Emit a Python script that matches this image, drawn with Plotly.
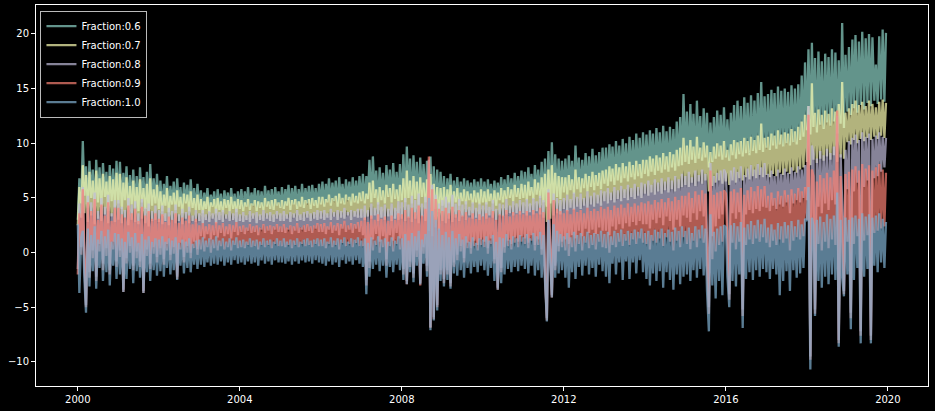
import pandas as pd
import plotly.graph_objects as go

labels = ["Fraction:0.6", "Fraction:0.7", "Fraction:0.8", "Fraction:0.9", "Fraction:1.0"]
colors = ["#8dd3c7", "#feffb3", "#bfbbd9", "#fa8174", "#81b1d2"]

# semi-monthly readings, one row per year (2000 ... 2019)
frac_06 = [
    3.0, 6.8, 4.5, 10.2, 5.2, 7.9, 4.1, 8.4, 5.0, 7.6, 3.9, 8.5, 4.6, 7.8, 4.3, 8.2, 5.1, 7.4, 3.8, 8.0, 4.7, 7.7, 4.2, 8.4,
    4.5, 8.3, 4.0, 7.3, 4.8, 7.9, 3.9, 7.1, 4.4, 7.6, 4.1, 7.0, 3.8, 7.8, 4.6, 6.9, 4.0, 7.4, 3.7, 8.1, 4.3, 6.8, 4.5, 7.2,
    4.0, 6.6, 3.8, 6.3, 4.3, 7.0, 3.7, 6.1, 4.4, 6.5, 3.9, 6.8, 4.2, 6.0, 3.6, 6.4, 4.5, 6.2, 3.8, 6.7, 4.1, 5.9, 3.9, 6.3,
    3.9, 5.7, 3.6, 5.5, 4.0, 5.9, 3.7, 5.3, 4.2, 5.6, 3.6, 5.8, 3.9, 5.4, 3.7, 5.7, 4.1, 5.5, 3.8, 5.9, 4.0, 5.4, 3.7, 5.6,
    4.0, 5.8, 3.8, 5.6, 4.2, 6.0, 3.9, 5.5, 4.3, 5.9, 3.8, 5.7, 4.1, 5.6, 3.9, 6.1, 4.2, 5.7, 4.0, 5.8, 3.9, 6.0, 4.3, 5.6,
    4.1, 6.0, 4.0, 5.8, 4.3, 6.2, 3.9, 5.9, 4.4, 6.1, 4.0, 5.8, 4.2, 6.3, 4.1, 5.9, 4.5, 6.1, 4.0, 6.2, 4.3, 5.9, 4.1, 6.3,
    4.4, 6.5, 4.2, 6.3, 4.6, 6.8, 4.3, 6.4, 4.7, 6.6, 4.2, 6.9, 4.5, 6.3, 4.4, 6.7, 4.8, 6.5, 4.3, 6.9, 4.6, 6.6, 4.5, 7.0,
    4.7, 7.2, 4.5, 7.0, 4.9, 8.5, 4.6, 8.8, 5.0, 7.5, 4.4, 7.8, 4.8, 7.3, 4.5, 8.0, 5.1, 7.6, 4.6, 8.2, 4.9, 7.4, 4.7, 8.1,
    4.8, 9.0, 4.6, 9.7, 5.0, 8.6, 4.5, 8.9, 4.9, 8.3, 4.4, 8.7, 5.1, 8.1, 4.6, 8.4, 3.8, 8.8, 3.5, 7.9, 4.0, 7.6, 3.7, 7.4,
    4.3, 7.0, 4.1, 6.8, 4.5, 7.2, 4.2, 6.6, 4.6, 6.9, 4.3, 6.5, 4.7, 6.8, 4.4, 6.6, 4.8, 6.4, 4.5, 6.7, 4.6, 6.5, 4.4, 6.8,
    4.6, 6.5, 4.4, 6.7, 4.7, 6.3, 4.5, 6.6, 4.3, 6.4, 4.8, 6.9, 4.6, 6.7, 4.9, 7.1, 5.0, 6.8, 4.7, 7.3, 5.1, 7.0, 4.9, 7.5,
    5.0, 7.4, 4.8, 7.8, 5.2, 7.2, 4.9, 8.0, 5.3, 7.6, 5.0, 8.3, 4.6, 8.6, 4.2, 9.3, 4.5, 10.1, 4.8, 9.0, 5.1, 8.6, 4.9, 8.4,
    5.5, 8.6, 5.3, 8.9, 5.7, 8.4, 5.4, 9.8, 5.8, 8.7, 5.5, 8.5, 5.9, 9.1, 5.6, 8.8, 6.0, 9.5, 5.7, 8.9, 6.1, 9.2, 5.8, 9.6,
    6.3, 9.6, 6.1, 9.9, 6.5, 9.7, 6.2, 10.2, 6.6, 9.8, 6.4, 10.4, 6.8, 10.0, 6.5, 10.6, 6.9, 10.3, 6.7, 10.9, 7.0, 10.5, 6.8, 11.0,
    7.2, 10.8, 7.0, 11.2, 7.4, 10.9, 7.1, 11.4, 7.5, 11.0, 7.3, 11.6, 7.6, 11.1, 7.4, 11.5, 7.8, 11.3, 7.5, 12.0, 7.9, 12.4, 8.0, 14.5,
    8.3, 12.9, 8.1, 13.6, 8.5, 12.7, 8.2, 13.9, 8.6, 12.5, 8.4, 13.2, 8.7, 12.8, 7.8, 11.9, 8.3, 12.4, 8.6, 13.0, 8.8, 12.6, 8.5, 13.3,
    8.7, 12.2, 8.4, 12.8, 8.9, 13.5, 8.6, 13.9, 9.0, 13.4, 8.8, 14.2, 9.1, 13.7, 8.9, 14.4, 9.3, 13.9, 9.1, 14.6, 9.4, 15.6, 9.2, 14.3,
    9.6, 14.5, 9.4, 14.9, 9.8, 14.6, 9.5, 15.2, 9.9, 14.8, 9.7, 15.0, 10.0, 14.7, 9.8, 15.3, 10.1, 15.0, 9.9, 15.4, 10.3, 16.2, 10.6, 17.4,
    11.2, 18.6, 10.8, 19.2, 11.5, 17.8, 11.0, 18.4, 11.7, 17.5, 11.3, 18.2, 11.9, 17.9, 11.6, 18.6, 12.0, 18.3, 10.9, 17.6, 11.8, 21.0, 11.4, 18.1,
    12.9, 18.8, 12.6, 19.5, 13.2, 19.9, 12.8, 19.3, 13.5, 20.2, 13.1, 19.6, 13.7, 20.0, 13.4, 19.7, 13.9, 17.2, 13.6, 19.8, 14.0, 20.4, 13.8, 20.1,
]

frac_07 = [
    2.5, 6.0, 3.2, 8.0, 3.6, 7.1, 2.8, 7.4, 3.4, 6.6, 2.6, 7.5, 3.1, 6.8, 2.9, 7.2, 3.5, 6.5, 2.7, 7.0, 3.3, 6.7, 2.8, 7.3,
    3.0, 7.2, 2.7, 6.4, 3.2, 6.9, 2.5, 6.1, 3.0, 6.6, 2.8, 6.0, 2.6, 6.7, 3.1, 5.9, 2.7, 6.3, 2.4, 6.8, 2.9, 5.8, 3.0, 6.2,
    2.8, 5.6, 2.6, 5.3, 2.9, 5.9, 2.5, 5.2, 3.0, 5.5, 2.7, 5.7, 2.9, 5.1, 2.6, 5.4, 3.1, 5.3, 2.7, 5.6, 2.9, 5.0, 2.8, 5.3,
    2.9, 4.9, 2.7, 4.7, 3.0, 5.1, 2.8, 4.6, 3.1, 4.9, 2.7, 5.0, 3.0, 4.7, 2.8, 4.9, 3.1, 4.8, 2.9, 5.1, 3.0, 4.7, 2.8, 4.9,
    2.9, 4.8, 2.8, 4.6, 3.0, 4.9, 2.8, 4.5, 3.1, 4.8, 2.7, 4.7, 3.0, 4.6, 2.9, 5.0, 3.1, 4.7, 2.9, 4.8, 2.8, 4.9, 3.1, 4.6,
    2.9, 4.8, 2.9, 4.7, 3.1, 5.0, 2.8, 4.8, 3.2, 4.9, 2.9, 4.7, 3.0, 5.1, 2.9, 4.8, 3.2, 4.9, 2.9, 5.0, 3.1, 4.8, 3.0, 5.1,
    3.1, 5.1, 3.0, 4.9, 3.2, 5.3, 3.0, 5.0, 3.3, 5.2, 3.0, 5.4, 3.2, 5.0, 3.1, 5.3, 3.4, 5.1, 3.0, 5.4, 3.3, 5.2, 3.2, 5.5,
    3.2, 5.6, 3.0, 5.4, 3.3, 6.4, 3.1, 6.6, 3.4, 5.8, 2.9, 6.0, 3.2, 5.7, 3.0, 6.2, 3.3, 5.9, 2.9, 6.3, 3.1, 5.8, 3.0, 6.2,
    3.1, 6.8, 2.9, 7.5, 3.2, 6.6, 2.8, 7.0, 3.1, 6.5, 2.7, 6.9, 3.3, 6.4, 2.9, 6.7, 2.0, 7.2, 1.5, 6.3, 2.3, 6.0, 2.1, 5.9,
    2.9, 6.0, 2.7, 5.8, 3.1, 6.2, 2.8, 5.6, 3.2, 5.9, 2.9, 5.5, 3.3, 5.8, 3.0, 5.6, 3.4, 5.4, 3.1, 5.7, 3.2, 5.5, 3.0, 5.8,
    3.3, 5.6, 3.1, 5.8, 3.4, 5.4, 3.2, 5.7, 3.0, 5.5, 3.4, 5.9, 3.3, 5.7, 3.5, 6.0, 3.6, 5.8, 3.4, 6.2, 3.6, 5.9, 3.5, 6.3,
    3.6, 6.2, 3.4, 6.5, 3.7, 6.0, 3.5, 6.7, 3.8, 6.4, 3.5, 6.9, 3.2, 7.2, 2.8, 7.6, 3.1, 8.0, 3.4, 7.3, 3.6, 7.0, 3.5, 6.9,
    4.0, 6.9, 3.8, 7.1, 4.1, 6.7, 3.9, 7.6, 4.2, 6.9, 4.0, 6.8, 4.3, 7.2, 4.1, 7.0, 4.4, 7.4, 4.2, 7.1, 4.5, 7.3, 4.3, 7.5,
    4.7, 7.6, 4.5, 7.9, 4.8, 7.7, 4.6, 8.1, 4.9, 7.8, 4.7, 8.2, 5.0, 7.9, 4.8, 8.3, 5.1, 8.0, 4.9, 8.4, 5.2, 8.1, 5.0, 8.5,
    5.4, 8.5, 5.2, 8.8, 5.5, 8.6, 5.3, 8.9, 5.6, 8.7, 5.4, 9.1, 5.7, 8.8, 5.5, 9.2, 5.8, 9.0, 5.6, 9.4, 5.9, 9.6, 6.0, 10.5,
    6.2, 9.8, 6.0, 10.3, 6.4, 9.7, 6.1, 10.6, 6.5, 9.6, 6.3, 10.1, 6.6, 9.8, 5.6, 9.2, 6.1, 9.7, 6.4, 10.0, 6.6, 9.8, 6.3, 10.2,
    6.5, 9.4, 6.2, 9.9, 6.6, 10.3, 6.4, 10.1, 6.8, 10.2, 6.6, 10.5, 6.9, 10.2, 6.7, 10.6, 7.0, 10.3, 6.8, 10.7, 7.1, 11.8, 6.9, 10.5,
    7.1, 10.6, 6.9, 10.9, 7.2, 10.7, 7.0, 11.2, 7.3, 10.8, 7.1, 11.0, 7.4, 10.9, 7.2, 11.3, 7.5, 11.1, 7.3, 11.5, 7.6, 12.0, 7.8, 12.6,
    8.3, 13.4, 8.0, 15.5, 8.5, 12.8, 8.2, 13.1, 8.6, 12.6, 8.4, 13.0, 8.8, 12.7, 8.5, 13.2, 8.9, 12.9, 8.3, 13.6, 8.7, 15.6, 8.6, 12.8,
    10.1, 13.2, 9.9, 13.6, 10.3, 13.9, 10.0, 13.5, 10.4, 13.8, 10.2, 13.4, 10.5, 13.9, 10.3, 13.6, 10.6, 13.3, 10.4, 13.8, 10.7, 14.0, 10.5, 13.7,
]

frac_08 = [
    -1.5, 4.5, 0.5, 6.0, -0.5, -4.8, 5.2, -1.8, 4.6, 0.2, 5.5, -2.2, 3.8, 0.8, 5.0, -1.0, 4.2, 0.4, 5.3, -1.6, 3.6, 1.0, 4.8, -0.8,
    4.8, 0.2, 4.2, -3.4, 3.9, -0.5, 5.0, 0.6, 4.4, -1.2, 4.7, 0.1, 3.6, -0.8, 4.9, -3.5, 4.1, 0.3, 4.5, -1.0, 3.8, 0.5, 4.3, -0.4,
    3.9, 0.4, 4.3, -0.6, 3.6, 0.8, 4.1, -0.2, 3.8, 0.5, 4.4, -2.2, 3.5, 0.9, 4.0, -0.4, 3.7, 0.6, 4.2, 0.0, 3.4, 1.0, 3.9, 0.3,
    3.6, 1.5, 3.9, 1.3, 3.5, 1.7, 3.8, 1.2, 3.6, 1.6, 4.0, 1.4, 3.7, 1.8, 3.9, 1.5, 3.5, 1.7, 3.8, 1.3, 3.6, 1.9, 4.0, 1.6,
    3.5, 1.9, 3.7, 1.7, 3.4, 2.0, 3.8, 1.8, 3.6, 1.9, 3.7, 1.6, 3.5, 2.1, 3.9, 1.8, 3.6, 2.0, 3.7, 1.7, 3.5, 2.1, 3.8, 1.9,
    3.6, 1.9, 3.8, 1.8, 3.5, 2.1, 3.7, 1.7, 3.6, 2.0, 3.9, 1.8, 3.5, 2.1, 3.7, 1.9, 3.8, 2.0, 3.6, 1.8, 3.7, 2.2, 3.9, 1.9,
    3.8, 1.9, 3.9, 1.7, 3.6, 2.1, 4.0, 1.8, 3.7, 2.0, 3.9, 1.6, 3.8, 2.2, 4.1, 1.9, 3.7, 2.1, 3.9, 1.8, 3.8, 2.2, 4.0, 1.9,
    4.0, 1.6, 4.3, -2.5, 3.9, -0.8, 4.5, 1.2, 4.1, 1.7, 4.6, 1.0, 4.2, 1.5, 4.4, -0.6, 4.0, 1.6, 4.5, 1.1, 4.1, 1.8, 4.7, 1.3,
    4.6, -1.5, 5.0, -2.6, 4.4, -0.8, 5.2, -1.9, 4.8, 0.2, 5.4, -2.8, 4.5, 0.5, 5.1, -1.2, 8.5, -6.8, 6.2, -5.9, 5.3, -4.8, 4.5, -1.6,
    4.8, -2.4, 5.1, -1.6, 4.6, -2.8, 5.3, -0.9, 4.5, -0.2, 4.9, 0.6, 4.4, -0.5, 4.7, 0.9, 4.2, 0.4, 4.6, 1.1, 4.1, 0.7, 4.5, 1.2,
    4.3, 1.0, 4.6, 0.4, 4.2, 1.3, 4.8, -0.6, 4.0, -3.2, 4.5, -1.4, 4.4, 0.5, 4.9, 1.1, 4.3, 0.8, 4.7, 1.4, 4.5, 1.0, 4.8, 1.5,
    4.6, 1.3, 4.9, 0.9, 4.5, 1.6, 5.0, 0.7, 4.7, 1.2, 5.2, 0.3, 4.8, -1.8, -6.0, 5.8, 0.4, -3.9, 5.4, -1.2, 5.0, 0.6, 4.8, 1.0,
    5.0, 1.2, 5.3, 0.8, 4.9, 1.6, 5.5, 1.3, 5.1, 2.0, 5.4, 1.5, 5.0, 2.2, 5.6, 1.8, 5.2, 2.1, 5.5, 1.7, 5.3, 2.3, 5.7, 2.0,
    5.6, 2.0, 5.9, 1.6, 5.5, 2.4, 6.0, 2.1, 5.7, 2.6, 6.1, 2.2, 5.8, 2.7, 6.2, 2.4, 5.9, 2.8, 6.3, 2.5, 6.0, 2.9, 6.4, 2.6,
    6.3, 2.6, 6.6, 2.2, 6.2, 3.0, 6.7, 2.7, 6.4, 3.2, 6.8, 2.5, 6.5, 3.3, 6.9, 2.9, 6.6, 2.1, 7.0, 3.0, 6.7, 2.4, 7.2, 3.4,
    7.0, 3.2, 7.4, 2.8, 6.9, 3.6, 7.5, 3.0, 7.1, 3.8, 7.6, 3.3, 7.2, 1.2, -5.0, 8.2, 1.5, 7.0, 2.4, 7.3, 3.1, 7.5, 3.5, 7.6,
    7.2, 3.4, -3.8, 7.5, 3.6, 7.8, 3.1, 7.4, 3.7, 7.9, -5.2, 7.1, 3.5, 7.7, 3.9, 8.0, 3.6, 7.6, 4.0, 8.1, 3.8, 7.8, 4.2, 8.2,
    4.1, 7.2, 3.8, 7.5, 4.3, 7.0, 4.0, 7.6, 4.4, 7.2, 4.2, 7.7, 4.6, 7.3, 3.6, 7.8, 4.5, 7.4, 4.8, 7.9, 4.6, 7.6, 5.0, 8.0,
    4.8, 13.4, -9.5, 9.8, 9.0, -5.2, 8.6, 4.2, 9.3, 3.6, 8.9, 4.5, 9.5, 3.9, 9.1, 4.8, 9.7, 4.4, 12.5, -8.0, 9.0, 4.6, -3.5, 9.4,
    5.8, 10.2, -5.5, 10.5, 5.6, 10.8, 6.4, 10.3, -7.2, 11.0, 6.0, 10.6, 6.6, 10.9, -7.6, 10.4, 6.8, 10.7, 7.0, 11.0, 7.4, 10.6, 7.8, 10.5,
]

frac_09 = [
    -2.0, 3.6, -0.2, 5.8, -1.2, -5.0, 4.6, -2.3, 3.8, -0.5, 4.9, -2.6, 3.0, 0.1, 4.4, -1.6, 3.4, -0.3, 4.6, -2.0, 2.9, 0.3, 4.1, -1.3,
    4.1, -0.4, 3.5, -3.6, 3.2, -1.0, 4.3, 0.0, 3.6, -1.6, 4.0, -0.5, 2.9, -1.3, 4.2, -3.7, 3.4, -0.3, 3.8, -1.5, 3.1, -0.1, 3.6, -0.9,
    3.1, -0.2, 3.5, -1.1, 2.8, 0.2, 3.3, -0.7, 3.0, -0.1, 3.6, -2.4, 2.7, 0.3, 3.2, -0.9, 2.9, 0.0, 3.4, -0.5, 2.6, 0.4, 3.1, -0.2,
    2.5, 0.3, 2.7, 0.1, 2.4, 0.5, 2.6, 0.0, 2.5, 0.4, 2.8, 0.2, 2.5, 0.6, 2.7, 0.3, 2.4, 0.5, 2.6, 0.2, 2.5, 0.7, 2.8, 0.4,
    2.4, 0.5, 2.5, 0.4, 2.3, 0.7, 2.6, 0.5, 2.4, 0.6, 2.5, 0.3, 2.3, 0.7, 2.6, 0.5, 2.4, 0.7, 2.5, 0.4, 2.4, 0.8, 2.6, 0.6,
    2.4, 0.6, 2.6, 0.5, 2.3, 0.7, 2.5, 0.4, 2.4, 0.7, 2.7, 0.5, 2.3, 0.8, 2.5, 0.6, 2.6, 0.7, 2.4, 0.5, 2.5, 0.8, 2.7, 0.6,
    2.6, 0.6, 2.7, 0.4, 2.4, 0.8, 2.8, 0.5, 2.5, 0.7, 2.7, 0.3, 2.6, 0.9, 2.9, 0.6, 2.5, 0.8, 2.7, 0.5, 2.6, 0.9, 2.8, 0.6,
    2.9, 0.6, 3.2, -3.0, 2.8, -1.4, 3.4, 0.2, 3.0, 0.7, 3.5, 0.0, 3.1, 0.5, 3.3, -1.2, 2.9, 0.6, 3.4, 0.1, 3.0, 0.8, 3.6, 0.3,
    3.5, -2.0, 3.9, -2.9, 3.3, -1.3, 4.1, -2.3, 3.7, -0.4, 4.3, -3.0, 3.4, -0.1, 4.0, -1.7, 8.8, -6.9, 5.8, -6.1, 4.9, -5.0, 4.0, -2.0,
    3.8, -2.8, 4.1, -2.0, 3.6, -3.1, 4.2, -1.3, 3.5, -0.7, 3.9, 0.1, 3.4, -0.9, 3.7, 0.4, 3.2, -0.1, 3.6, 0.6, 3.1, 0.2, 3.5, 0.7,
    3.3, 0.5, 3.6, -0.1, 3.2, 0.8, 3.8, -1.0, 3.0, -3.4, 3.5, -1.8, 3.4, 0.0, 3.9, 0.6, 3.3, 0.3, 3.7, 0.9, 3.5, 0.5, 3.8, 1.0,
    3.5, 0.8, 3.8, 0.4, 3.4, 1.1, 3.9, 0.2, 3.6, 0.7, 4.1, -0.2, 3.7, -2.2, -6.2, 5.5, 0.0, -4.1, 4.8, -1.6, 4.0, 0.1, 3.8, 0.5,
    3.6, 0.2, 3.9, -0.3, 3.5, 0.5, 4.0, 0.1, 3.7, 0.8, 3.9, 0.2, 3.6, 0.9, 4.1, 0.4, 3.8, 0.7, 4.0, 0.3, 3.8, 1.0, 4.2, 0.5,
    4.0, 0.4, 4.2, 0.0, 3.9, 0.7, 4.3, 0.5, 4.1, 1.0, 4.4, 0.6, 4.1, 1.1, 4.5, 0.7, 4.2, 1.2, 4.5, 0.8, 4.3, 1.3, 4.6, 0.9,
    4.5, 0.8, 4.7, 0.3, 4.4, 1.1, 4.8, 0.9, 4.6, 1.3, 4.9, 0.6, 4.6, 1.4, 5.0, 1.0, 4.7, 0.2, 5.1, 1.1, 4.8, 0.5, 5.2, 1.4,
    5.2, 0.8, 5.5, 0.3, 5.0, 1.1, 5.6, 0.5, 5.3, 1.3, 5.7, 0.9, 5.4, -0.8, -5.6, 7.5, -0.6, 5.3, 0.1, 5.5, 0.7, 5.6, 1.0, 5.7,
    5.4, 0.8, -4.3, 5.6, 0.9, 5.8, 0.3, 5.5, 1.0, 5.9, -5.8, 5.3, 0.7, 5.7, 1.2, 6.0, 0.8, 5.6, 1.3, 6.1, 1.0, 5.8, 1.4, 6.1,
    0.9, 5.2, 0.5, 5.5, 1.1, 5.0, 0.7, 5.6, 1.2, 5.2, 0.9, 5.7, 1.3, 5.3, 0.2, 5.8, 1.1, 5.4, 1.4, 5.9, 1.2, 5.6, 1.5, 6.0,
    3.0, 12.6, -9.8, 7.6, 7.0, -5.6, 6.5, 0.8, 7.1, 0.2, 6.8, 1.0, 7.3, 0.4, 6.9, 1.2, 7.5, 0.7, 13.0, -8.3, 7.0, 1.0, -3.8, 7.2,
    1.0, 7.4, -6.0, 7.6, 0.8, 7.9, 1.5, 7.5, -7.6, 8.1, 1.1, 7.7, 1.6, 8.0, -8.0, 7.5, 1.8, 7.8, 2.0, 8.1, 2.2, 7.6, 2.4, 7.3,
]

frac_10 = [
    2.6, -3.7, 1.4, 2.0, -2.6, -5.5, 2.2, -3.1, 1.6, -1.7, 2.4, -3.3, 1.2, -1.4, 2.0, -2.6, 1.5, -1.8, 2.1, -3.0, 1.0, -1.2, 1.8, -2.4,
    1.7, -2.0, 1.3, -3.6, 1.0, -2.4, 1.9, -1.5, 1.4, -2.8, 1.8, -1.7, 0.9, -2.3, 1.7, -3.7, 1.2, -1.8, 1.5, -2.6, 1.0, -1.6, 1.3, -2.1,
    1.2, -1.7, 1.5, -2.2, 1.0, -1.4, 1.3, -2.0, 1.1, -1.6, 1.4, -2.5, 0.9, -1.2, 1.2, -1.9, 1.0, -1.4, 1.3, -1.8, 0.8, -1.1, 1.1, -1.5,
    1.2, -1.1, 1.4, -1.3, 1.1, -0.9, 1.3, -1.2, 1.2, -1.0, 1.5, -1.1, 1.1, -0.8, 1.3, -1.2, 1.0, -0.9, 1.3, -1.1, 1.1, -0.7, 1.4, -1.0,
    1.1, -0.9, 1.2, -1.1, 1.0, -0.8, 1.3, -1.0, 1.1, -0.9, 1.2, -1.2, 1.0, -0.7, 1.3, -1.0, 1.1, -0.8, 1.2, -1.1, 1.0, -0.7, 1.3, -0.9,
    1.1, -0.9, 1.3, -1.0, 1.0, -0.8, 1.2, -1.1, 1.1, -0.8, 1.3, -1.0, 1.0, -0.7, 1.2, -0.9, 1.3, -0.8, 1.1, -1.0, 1.2, -0.7, 1.3, -0.9,
    1.2, -1.0, 1.3, -1.2, 1.0, -0.8, 1.4, -1.1, 1.1, -0.9, 1.3, -1.3, 1.2, -0.7, 1.4, -1.0, 1.0, -0.8, 1.3, -1.1, 1.2, -0.7, 1.4, -1.0,
    1.1, -1.3, 1.3, -3.8, 0.9, -2.2, 1.4, -1.5, 1.1, -1.1, 1.5, -1.7, 1.2, -1.2, 1.3, -2.3, 1.0, -1.3, 1.4, -1.8, 1.1, -1.1, 1.5, -1.6,
    1.3, -2.5, 1.7, -2.9, 1.1, -1.8, 1.8, -2.7, 1.5, -1.2, 2.0, -2.9, 1.2, -1.0, 1.7, -2.2, 5.0, -7.1, 3.8, -6.2, 3.0, -5.3, 2.2, -2.6,
    1.6, -3.1, 1.9, -2.5, 1.4, -3.3, 2.0, -1.9, 1.3, -2.1, 1.7, -1.6, 1.2, -2.3, 1.5, -1.4, 1.0, -1.9, 1.4, -1.3, 0.9, -1.8, 1.3, -1.2,
    1.2, -1.6, 1.5, -2.1, 1.1, -1.4, 1.6, -2.6, 1.0, -3.4, 1.4, -2.8, 1.3, -2.0, 1.7, -1.5, 1.2, -1.8, 1.5, -1.3, 1.3, -1.7, 1.6, -1.2,
    1.4, -1.5, 1.7, -1.9, 1.3, -1.2, 1.8, -2.1, 1.5, -1.6, 1.9, -2.3, 1.6, -2.6, -6.3, 3.0, -1.2, -4.1, 2.6, -2.3, 2.0, -1.9, 1.7, -1.6,
    1.5, -2.3, 1.8, -3.2, 1.4, -1.8, 1.9, -2.4, 1.6, -1.3, 1.8, -2.1, 1.5, -1.2, 1.9, -2.0, 1.6, -1.4, 1.8, -2.2, 1.7, -1.1, 2.0, -1.7,
    1.7, -2.2, 1.9, -2.8, 1.5, -1.0, 2.0, -2.0, 1.8, -0.9, 2.1, -2.5, 1.7, -0.8, 2.0, -2.4, 1.8, -0.9, 2.1, -1.9, 1.9, -0.7, 2.2, -1.8,
    1.8, -2.4, 2.0, -3.0, 1.6, -1.9, 2.1, -2.6, 1.9, -1.7, 2.2, -3.2, 1.8, -1.8, 2.1, -2.5, 1.9, -3.4, 2.3, -2.0, 2.0, -2.9, 2.4, -2.2,
    2.0, -2.0, 2.3, -2.6, 1.8, -1.6, 2.4, -2.3, 2.1, -1.5, 2.5, -2.1, 2.2, -3.5, -7.2, 3.5, -3.0, 1.9, -4.2, 2.2, -2.6, 2.4, -3.9, 2.5,
    2.3, -2.2, -5.0, 2.5, -2.6, 2.7, -3.1, 2.4, -2.0, 2.8, -6.9, 2.3, -2.4, 2.6, -1.8, 2.9, -2.5, 2.5, -1.6, 3.0, -2.2, 2.6, -1.5, 3.1,
    -1.8, 2.3, -2.4, 2.6, -1.5, 2.1, -2.0, 2.7, -3.9, 2.4, -2.6, 2.8, -1.7, 2.5, -3.5, 2.9, -1.6, 2.4, -2.3, 3.0, -1.9, 2.6, -1.4, 3.1,
    2.9, 6.0, -10.7, 3.2, 2.5, -5.8, 3.0, -2.6, 3.3, -3.2, 2.8, -2.2, 3.5, -2.9, 3.1, -2.0, 3.4, -2.5, 5.5, -8.6, 3.0, -2.3, -4.0, 3.2,
    -2.0, 3.0, -7.0, 3.2, -2.5, 3.4, -1.4, 3.1, -8.3, 3.6, -2.2, 3.3, -1.5, 3.5, -8.3, 3.2, -1.2, 3.4, -1.8, 3.6, -0.9, 3.1, -1.4, 2.8,
]

series = [frac_06, frac_07, frac_08, frac_09, frac_10]

fig = go.Figure()
for name, color, vals in zip(labels, colors, series):
    dates = pd.date_range("2000-01-01", periods=len(vals), freq="SMS")
    fig.add_trace(go.Scatter(
        x=dates, y=vals, mode="lines", name=name,
        line=dict(color=color, width=2.3, simplify=False), opacity=0.7,
    ))

axis_style = dict(
    showgrid=False, zeroline=False, showline=True, mirror=True,
    linecolor="white", linewidth=1, ticks="outside", ticklen=4,
    tickwidth=1, tickcolor="white",
    tickfont=dict(family="DejaVu Sans", size=10, color="white"),
)

fig.update_layout(
    width=935, height=411, autosize=False,
    paper_bgcolor="black", plot_bgcolor="black",
    margin=dict(l=36, r=7, t=5, b=25),
    font=dict(family="DejaVu Sans", size=10, color="white"),
    showlegend=True,
    legend=dict(
        x=0.005, y=0.985, xanchor="left", yanchor="top",
        bgcolor="rgba(0,0,0,0.8)", bordercolor="#bbbbbb", borderwidth=1,
        font=dict(family="DejaVu Sans", size=10, color="white"),
        itemwidth=30, tracegroupgap=0,
    ),
    xaxis=dict(type="date", range=["1998-12-20", "2020-12-28"],
               tick0="2000-01-01", dtick="M48", tickformat="%Y", **axis_style),
    yaxis=dict(range=[-12.2, 22.65], tick0=0, dtick=5, **axis_style),
)

fig.write_html(
    "out.html",
    config={"displayModeBar": False},
    post_script="document.body.style.margin='0';document.body.style.background='black';",
)
